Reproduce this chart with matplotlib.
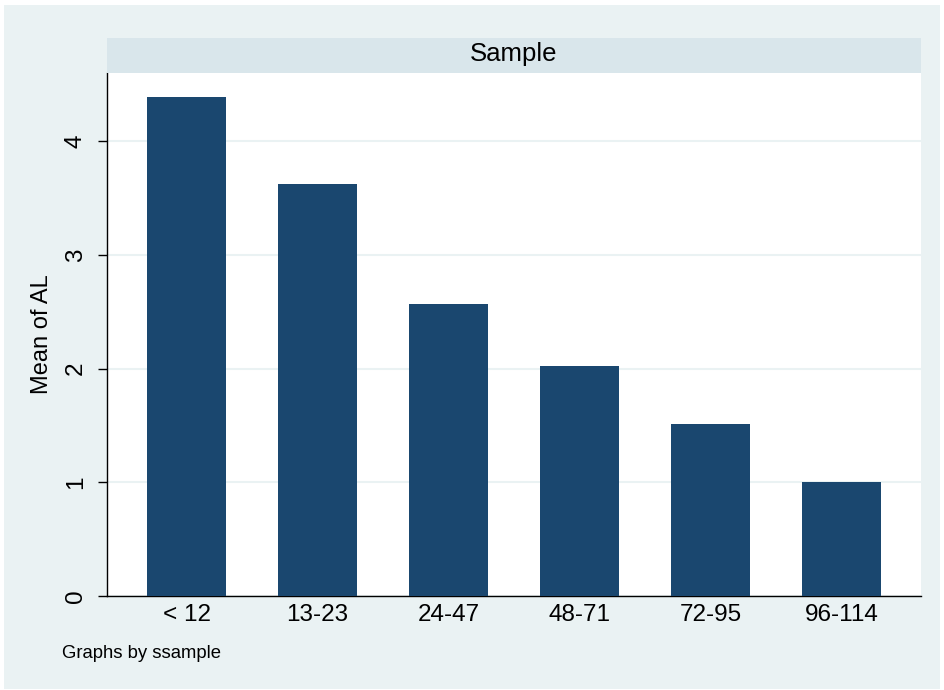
import matplotlib.pyplot as plt
from matplotlib.patches import Rectangle

plt.rcParams['font.family'] = ['Liberation Sans', 'DejaVu Sans']

groups = ['< 12', '13-23', '24-47', '48-71', '72-95', '96-114']
mean_al = [4.39, 3.62, 2.57, 2.02, 1.51, 1.00]
yticks = [0, 1, 2, 3, 4]

W, H = 944, 690
fig = plt.figure(figsize=(W / 100, H / 100), dpi=100, facecolor='white')

# light stata-like background region, behind everything
fig.patches.append(Rectangle((4 / W, 1 - 689 / H), 936 / W, 684 / H,
                             transform=fig.transFigure, facecolor='#eaf2f3',
                             edgecolor='none', zorder=-10))

ax = fig.add_axes([107 / W, 1 - 596 / H, 814 / W, 523 / H])
ax.set_facecolor('white')

x = range(len(groups))
ax.bar(x, mean_al, width=0.603, color='#1a476f', zorder=3)

ax.set_xlim(-0.607, len(groups) - 1 + 0.607)
ax.set_ylim(0, 4.598)
ax.set_xticks(list(x))
ax.set_xticklabels(groups, fontsize=17.5)
ax.set_yticks(yticks)
ax.set_yticklabels([str(t) for t in yticks], fontsize=17.5, rotation=90, va='center')
ax.tick_params(axis='x', length=0, pad=6)
ax.tick_params(axis='y', length=6.5, width=1, pad=8)
ax.yaxis.grid(True, color='#eaf2f3', linewidth=1.5, zorder=0)

for s in ['top', 'right']:
    ax.spines[s].set_visible(False)
ax.spines['left'].set_linewidth(1)
ax.spines['bottom'].set_linewidth(1)

# header strip
hdr = fig.add_axes([107 / W, 1 - 73 / H, 814 / W, 35 / H])
hdr.set_facecolor('#d9e6eb')
hdr.set_xticks([])
hdr.set_yticks([])
for s in hdr.spines.values():
    s.set_visible(False)
hdr.text(0.5, 0.55, 'Sample', ha='center', va='center', fontsize=18.5,
         transform=hdr.transAxes)

fig.text(42 / W, 1 - 334 / H, 'Mean of AL', rotation=90, ha='center',
         va='center', fontsize=17)
fig.text(62 / W, 1 - 653 / H, 'Graphs by ssample', ha='left', va='center',
         fontsize=13.3)

fig.savefig('out.png', dpi=100, facecolor='white')
